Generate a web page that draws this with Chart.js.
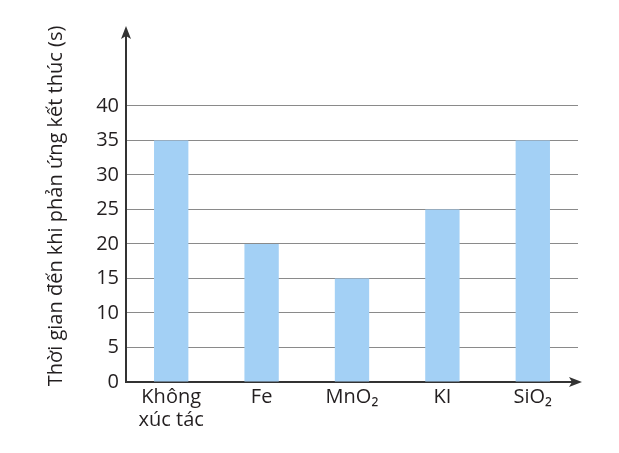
<!DOCTYPE html>
<html>
<head>
<meta charset="utf-8">
<script src="https://cdn.jsdelivr.net/npm/chart.js@4.4.1/dist/chart.umd.min.js"></script>
<style>
  html, body { margin: 0; padding: 0; background: #ffffff; }
  #wrap { width: 619px; height: 453px; position: relative; }
</style>
</head>
<body>
<div id="wrap"><canvas id="c" width="619" height="453"></canvas></div>
<script>
// Data
const categories = [["Không", "xúc tác"], "Fe", "MnO₂", "KI", "SiO₂"];
const times = [35, 20, 15, 25, 35];
const yTickMax = 40;
const yTitle = "Thời gian đến khi phản ứng kết thúc (s)";

const FONT = "'Open Sans', 'Noto Sans', sans-serif";
const TEXT = "#231f20";
const AXIS = "#333333";

const arrows = {
  id: "arrows",
  afterDraw(chart) {
    const ctx = chart.ctx;
    const a = chart.chartArea;
    ctx.save();
    ctx.fillStyle = AXIS;
    // y arrow
    const x = a.left;
    ctx.beginPath();
    ctx.moveTo(x, a.top - 4);
    ctx.lineTo(x - 5, a.top + 9);
    ctx.lineTo(x, a.top + 6);
    ctx.lineTo(x + 5, a.top + 9);
    ctx.closePath();
    ctx.fill();
    // x arrow
    const y = a.bottom;
    ctx.beginPath();
    ctx.moveTo(a.right + 4, y);
    ctx.lineTo(a.right - 9, y - 5);
    ctx.lineTo(a.right - 6, y);
    ctx.lineTo(a.right - 9, y + 5);
    ctx.closePath();
    ctx.fill();
    ctx.restore();
  }
};

new Chart(document.getElementById("c"), {
  type: "bar",
  data: {
    labels: categories,
    datasets: [{
      data: times,
      backgroundColor: "#a3d0f5",
      borderWidth: 0,
      barPercentage: 0.76,
      categoryPercentage: 0.5
    }]
  },
  options: {
    responsive: false,
    animation: false,
    devicePixelRatio: 1,
    layout: { padding: { top: 30, right: 41, left: 0, bottom: 0 } },
    plugins: { legend: { display: false }, tooltip: { enabled: false } },
    scales: {
      x: {
        grid: { display: false, drawTicks: false },
        border: { display: true, color: AXIS, width: 2 },
        ticks: {
          color: TEXT,
          font: { family: FONT, size: 20, lineHeight: 1.15 },
          padding: 4,
          maxRotation: 0,
          autoSkip: false
        },
        afterFit(scale) { scale.height = 71; }
      },
      y: {
        min: 0,
        max: 51,
        afterBuildTicks(scale) {
          const t = [];
          for (let v = 0; v <= yTickMax; v += 5) t.push({ value: v });
          scale.ticks = t;
        },
        grid: {
          drawTicks: false,
          color: (c) => (c.tick && c.tick.value > 0 && c.tick.value <= yTickMax) ? "#8a8a8a" : "rgba(0,0,0,0)",
          lineWidth: 1
        },
        border: { display: true, color: AXIS, width: 2 },
        ticks: {
          color: TEXT,
          font: { family: FONT, size: 20 },
          padding: 7
        },
        title: {
          display: true,
          text: yTitle,
          color: TEXT,
          font: { family: FONT, size: 20 },
          padding: { top: 44, bottom: 0 }
        },
        afterFit(scale) { scale.width = 126; }
      }
    }
  },
  plugins: [arrows]
});
</script>
</body>
</html>
